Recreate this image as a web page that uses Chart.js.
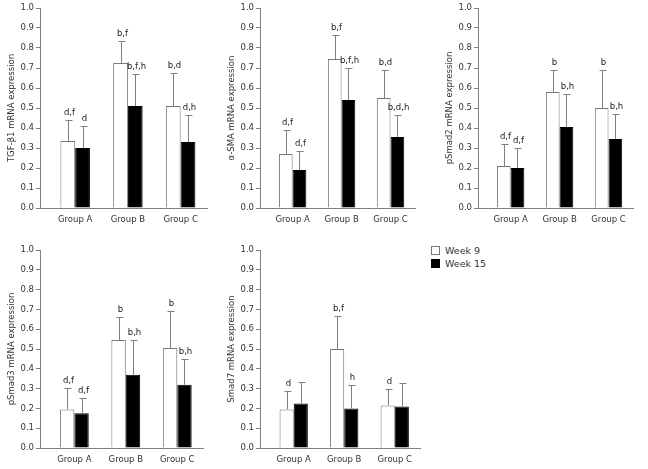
<!DOCTYPE html>
<html>
<head>
<meta charset="utf-8">
<script src="https://cdn.jsdelivr.net/npm/chart.js@4.4.1/dist/chart.umd.min.js"></script>
<style>
  body { margin: 0; background: #fff; }
  #wrap { position: relative; width: 648px; height: 469px; overflow: hidden; font-family: "DejaVu Sans", sans-serif; }
  .panel { position: absolute; }
  .legend { position: absolute; left: 431px; top: 244px; font-size: 9.5px; color: #333; }
  .legend div { height: 13px; line-height: 13px; display: flex; align-items: center; }
  .legend span.box { display: inline-block; width: 7px; height: 7px; margin-right: 5px; border: 1px solid #777; }
</style>
</head>
<body>
<div id="wrap">
  <div class="panel" style="left:0;top:0;width:209px;height:233px;"><canvas id="c1"></canvas></div>
  <div class="panel" style="left:220px;top:0;width:197px;height:233px;"><canvas id="c2"></canvas></div>
  <div class="panel" style="left:438px;top:0;width:197px;height:233px;"><canvas id="c3"></canvas></div>
  <div class="panel" style="left:0;top:240px;width:205px;height:233px;"><canvas id="c4"></canvas></div>
  <div class="panel" style="left:220px;top:240px;width:202px;height:233px;"><canvas id="c5"></canvas></div>
  <div class="legend">
    <div><span class="box" style="background:#fff;"></span>Week 9</div>
    <div><span class="box" style="background:#000;border-color:#000;"></span>Week 15</div>
  </div>
</div>
<script>
// ---- data ----
const groups = ['Group A', 'Group B', 'Group C'];
const yTicks = [0, 0.1, 0.2, 0.3, 0.4, 0.5, 0.6, 0.7, 0.8, 0.9, 1.0];

// TGF-beta1
const tgfWeek9 = [0.335, 0.725, 0.51];
const tgfWeek9Sd = [0.105, 0.11, 0.165];
const tgfWeek15 = [0.30, 0.51, 0.33];
const tgfWeek15Sd = [0.11, 0.16, 0.135];
const tgfLabels9 = ['d,f', 'b,f', 'b,d'];
const tgfLabels15 = ['d', 'b,f,h', 'd,h'];

// alpha-SMA
const smaWeek9 = [0.27, 0.745, 0.55];
const smaWeek9Sd = [0.12, 0.12, 0.14];
const smaWeek15 = [0.19, 0.54, 0.355];
const smaWeek15Sd = [0.095, 0.16, 0.11];
const smaLabels9 = ['d,f', 'b,f', 'b,d'];
const smaLabels15 = ['d,f', 'b,f,h', 'b,d,h'];

// pSmad2
const ps2Week9 = [0.21, 0.58, 0.50];
const ps2Week9Sd = [0.11, 0.11, 0.19];
const ps2Week15 = [0.20, 0.405, 0.345];
const ps2Week15Sd = [0.10, 0.165, 0.125];
const ps2Labels9 = ['d,f', 'b', 'b'];
const ps2Labels15 = ['d,f', 'b,h', 'b,h'];

// pSmad3
const ps3Week9 = [0.195, 0.545, 0.505];
const ps3Week9Sd = [0.11, 0.115, 0.185];
const ps3Week15 = [0.175, 0.37, 0.32];
const ps3Week15Sd = [0.08, 0.175, 0.13];
const ps3Labels9 = ['d,f', 'b', 'b'];
const ps3Labels15 = ['d,f', 'b,h', 'b,h'];

// Smad7
const s7Week9 = [0.195, 0.50, 0.215];
const s7Week9Sd = [0.095, 0.165, 0.085];
const s7Week15 = [0.225, 0.20, 0.21];
const s7Week15Sd = [0.11, 0.12, 0.12];
const s7Labels9 = ['d', 'b,f', 'd'];
const s7Labels15 = ['', 'h', ''];

const FONT = '"DejaVu Sans", sans-serif';
const AXIS = '#808080';

// upper error bars + significance letters
const errorBarPlugin = {
  id: 'errorBars',
  afterDatasetsDraw(chart) {
    const ctx = chart.ctx;
    const yScale = chart.scales.y;
    chart.data.datasets.forEach((ds, di) => {
      const meta = chart.getDatasetMeta(di);
      meta.data.forEach((bar, i) => {
        const top = Math.round(yScale.getPixelForValue(ds.data[i].y + ds.sd[i])) + 0.5;
        const x = Math.round(bar.x) + 0.5;
        ctx.save();
        ctx.strokeStyle = AXIS;
        ctx.lineWidth = 1;
        ctx.beginPath();
        ctx.moveTo(x, bar.y);
        ctx.lineTo(x, top);
        ctx.moveTo(x - 3, top);
        ctx.lineTo(x + 4, top);
        ctx.stroke();
        if (ds.marks[i]) {
          ctx.fillStyle = '#222';
          ctx.font = '8.5px ' + FONT;
          ctx.textAlign = 'center';
          ctx.textBaseline = 'bottom';
          ctx.fillText(ds.marks[i], x + 1, top - 3);
        }
        ctx.restore();
      });
    });
  }
};

const toPoints = vals => vals.map((v, i) => ({ x: i, y: v }));

function makePanel(id, title, w9, w9sd, w15, w15sd, lab9, lab15, padTop) {
  new Chart(document.getElementById(id), {
    type: 'bar',
    data: {
      datasets: [
        { label: 'Week 9', data: toPoints(w9), sd: w9sd, marks: lab9,
          backgroundColor: '#fff', borderColor: '#777', borderWidth: 1 },
        { label: 'Week 15', data: toPoints(w15), sd: w15sd, marks: lab15,
          backgroundColor: '#000', borderColor: '#000', borderWidth: 1 }
      ]
    },
    options: {
      responsive: true,
      maintainAspectRatio: false,
      animation: false,
      devicePixelRatio: 1,
      layout: { padding: { top: padTop, right: 2, left: 0, bottom: 0 } },
      datasets: { bar: { categoryPercentage: 0.56, barPercentage: 1.0 } },
      plugins: { legend: { display: false }, tooltip: { enabled: false } },
      scales: {
        x: {
          type: 'linear',
          offset: false,
          bounds: 'data',
          min: -0.667,
          max: 2.5,
          afterBuildTicks: s => { s.ticks = groups.map((g, i) => ({ value: i })); },
          grid: { drawOnChartArea: false, drawTicks: false },
          border: { color: AXIS },
          ticks: { color: '#333', font: { family: FONT, size: 8.5 }, padding: 7,
                   callback: v => groups[Math.round(v)] },
          afterFit: s => { s.height = 25; }
        },
        y: {
          min: 0,
          max: 1,
          afterBuildTicks: s => { s.ticks = yTicks.map(v => ({ value: v })); },
          grid: { drawOnChartArea: false, tickLength: 4, color: AXIS },
          border: { color: AXIS },
          ticks: { color: '#333', font: { family: FONT, size: 8.5 }, padding: 2,
                   callback: v => v.toFixed(1) },
          title: { display: true, text: title, color: '#333',
                   font: { family: FONT, size: 8.5 }, padding: { top: 7, bottom: 0 } },
          afterFit: s => { s.width = 40; }
        }
      }
    },
    plugins: [errorBarPlugin]
  });
}

makePanel('c1', 'TGF-β1 mRNA expression', tgfWeek9, tgfWeek9Sd, tgfWeek15, tgfWeek15Sd, tgfLabels9, tgfLabels15, 8);
makePanel('c2', 'α-SMA mRNA expression', smaWeek9, smaWeek9Sd, smaWeek15, smaWeek15Sd, smaLabels9, smaLabels15, 8);
makePanel('c3', 'pSmad2 mRNA expression', ps2Week9, ps2Week9Sd, ps2Week15, ps2Week15Sd, ps2Labels9, ps2Labels15, 8);
makePanel('c4', 'pSmad3 mRNA expression', ps3Week9, ps3Week9Sd, ps3Week15, ps3Week15Sd, ps3Labels9, ps3Labels15, 10);
makePanel('c5', 'Smad7 mRNA expression', s7Week9, s7Week9Sd, s7Week15, s7Week15Sd, s7Labels9, s7Labels15, 10);
</script>
</body>
</html>
